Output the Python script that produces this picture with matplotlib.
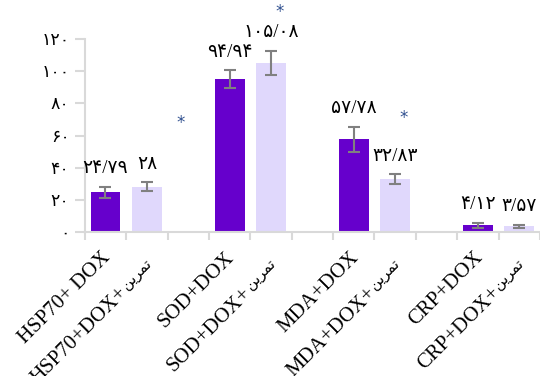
import matplotlib.pyplot as plt
import numpy as np
from matplotlib.transforms import offset_copy

# shaped Persian word (visual order, presentation forms)
tamrin = '\ufee6\ufbfe\ufeae\ufee4\ufe97'

labels = ['HSP70+ DOX', 'HSP70+DOX+ ' + tamrin, '',
          'SOD+DOX', 'SOD+DOX+ ' + tamrin, '',
          'MDA+DOX', 'MDA+DOX+ ' + tamrin, '',
          'CRP+DOX', 'CRP+DOX+ ' + tamrin]
values = [24.79, 28, 0, 94.94, 105.08, 0, 57.78, 32.83, 0, 4.12, 3.57]
errors = [3.4, 2.8, 0, 5.6, 7.5, 0, 7.8, 3.1, 0, 1.5, 1.0]
value_text = ['۲۴/۷۹', '۲۸', '', '۹۴/۹۴', '۱۰۵/۰۸', '', '۵۷/۷۸', '۳۲/۸۳', '', '۴/۱۲', '۳/۵۷']
colors = ['#6600CC', '#E0D8FC', 'w', '#6600CC', '#E0D8FC', 'w',
          '#6600CC', '#E0D8FC', 'w', '#6600CC', '#E0D8FC']
yticks = [0, 20, 40, 60, 80, 100, 120]
ytick_text = ['۰', '۲۰', '۴۰', '۶۰', '۸۰', '۱۰۰', '۱۲۰']
# significance marks (x, y in data units)
star_x = [1.81, 4.21, 7.21]
star_y = [68, 137, 71]

fam = ['Liberation Serif', 'DejaVu Sans']
plt.rcParams['font.family'] = fam

fig = plt.figure(figsize=(5.4, 3.76), dpi=100)
ax = fig.add_axes([0.157, 0.383, 0.843, 0.513])

x = np.arange(len(values))
ax.bar(x, values, width=0.72, color=colors, zorder=2)
for i in range(len(values)):
    if errors[i] > 0:
        ax.errorbar(x[i], values[i], yerr=errors[i], color='#808080',
                    capsize=4, elinewidth=1.5, capthick=1.5, zorder=3)
        ax.annotate(value_text[i], (x[i], values[i] + errors[i]),
                    xytext=(0, 7), textcoords='offset points',
                    ha='center', va='bottom', fontsize=13.5, family=fam)

for sx, sy in zip(star_x, star_y):
    ax.text(sx, sy, '*', color='#2F4F8F', fontsize=12, ha='center',
            va='center', clip_on=False, family='DejaVu Sans')

ax.set_xlim(-0.5, 10.33)
ax.set_ylim(0, 120)
ax.set_yticks(yticks)
ax.set_yticklabels(ytick_text, fontsize=12.5)
ax.set_xticks(np.arange(len(values) + 1) - 0.5)
ax.set_xticklabels([''] * (len(values) + 1))
ax.tick_params(axis='x', length=6, color='#D9D9D9', width=1.5)
ax.tick_params(axis='y', length=7, color='#D9D9D9', width=1.5, pad=4)

for s in ['top', 'right']:
    ax.spines[s].set_visible(False)
for s in ['left', 'bottom']:
    ax.spines[s].set_color('#D9D9D9')
    ax.spines[s].set_linewidth(1.5)

# rotated category labels, Persian word drawn separately so it can be smaller
trans = ax.get_xaxis_transform()
fig.canvas.draw()
r = fig.canvas.get_renderer()
c = np.cos(np.pi / 4)
kw = dict(rotation=45, rotation_mode='anchor', ha='right', va='center', clip_on=False)
for i, lab in enumerate(labels):
    if not lab:
        continue
    if lab.endswith(tamrin):
        latin = lab[:-len(tamrin)].rstrip()
        tmp = ax.text(0, 0, tamrin, fontsize=10.5, family='DejaVu Sans')
        w = tmp.get_window_extent(r).width
        tmp.remove()
        px, py = 2, -29
        ax.text(i, 0, tamrin, transform=offset_copy(trans, fig, x=px, y=py, units='dots'),
                fontsize=10.5, family='DejaVu Sans', **kw)
        d = w + 2
        lx = px - d * c + 4 * c
        ly = py - d * c - 4 * c
        ax.text(i, 0, latin, transform=offset_copy(trans, fig, x=lx, y=ly, units='dots'),
                fontsize=15, family=fam, **kw)
    else:
        ax.text(i, 0, lab, transform=offset_copy(trans, fig, x=2, y=-23, units='dots'),
                fontsize=15, family=fam, **kw)

fig.savefig('out.png', dpi=100)
